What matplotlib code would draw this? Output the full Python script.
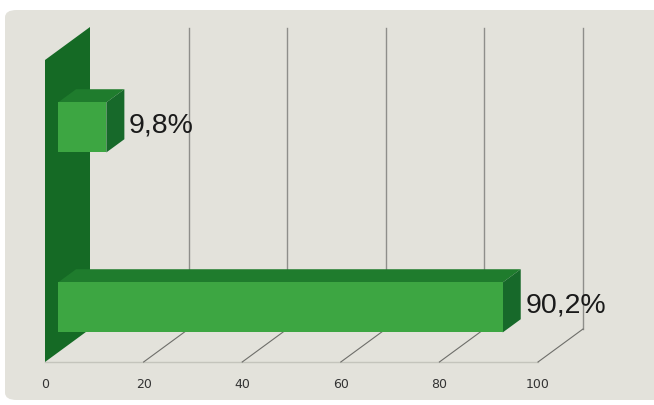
import matplotlib
matplotlib.use("Agg")
import matplotlib.pyplot as plt
from matplotlib.patches import Polygon, FancyBboxPatch

# Shares of the two groups (percent)
values = [90.2, 9.8]
value_labels = ["90,2%", "9,8%"]
tick_values = [0, 20, 40, 60, 80, 100]

# Layout of the pseudo-3D scene (y in pixel-like units above the front floor edge)
W, H, DPI = 654, 405, 100
PX_PER_UNIT = 4.93          # pixels per percentage point
X0_PX, FLOOR_PX = 45, 362   # screen position of value 0 on the front floor edge
DEPTH_X = 45 / PX_PER_UNIT  # oblique depth shift along x (data units)
DEPTH_Y = 33                # oblique depth shift along y
WALL_TOP = 302
slot_centers = [45, 225]    # vertical centre of each bar slot
half_h = 25
front_d, back_d = 0.29, 0.69

FRONT = "#3da642"
TOP = "#1f7c2d"
SIDE = "#17692a"
WALL = "#156a25"
PANEL = "#e3e2db"


def proj(x, y, d):
    """Oblique projection of a point at depth fraction d (0 = front, 1 = back)."""
    return (x + d * DEPTH_X, y + d * DEPTH_Y)


fig = plt.figure(figsize=(W / DPI, H / DPI), dpi=DPI)
fig.patch.set_facecolor("white")

ax = fig.add_axes([0, 0, 1, 1])
ax.set_xlim(-X0_PX / PX_PER_UNIT, (W - X0_PX) / PX_PER_UNIT)
ax.set_ylim(FLOOR_PX - H, FLOOR_PX)
ax.axis("off")

# rounded background panel
panel = FancyBboxPatch((5 / W, 5 / H), 700 / W, 390 / H,
                       boxstyle="round,pad=0,rounding_size=0.018",
                       transform=ax.transAxes, facecolor=PANEL,
                       edgecolor="none", zorder=0, clip_on=False)
ax.add_patch(panel)

# back wall gridlines
for t in tick_values[1:]:
    xb, yb = proj(t, 0, 1)
    ax.plot([xb, xb], [yb, WALL_TOP + DEPTH_Y - 1], color="#8e8e8a", lw=1.0, zorder=1)

# floor: front edge and depth lines
ax.plot([0, 100], [0, 0], color="#c4c4bc", lw=1.0, zorder=1)
for t in tick_values[1:]:
    xb, yb = proj(t, 0, 1)
    ax.plot([t, xb], [0, yb], color="#6e6e6a", lw=0.8, zorder=1)

# side wall at value 0
wall = [proj(0, 0, 0), proj(0, WALL_TOP, 0), proj(0, WALL_TOP, 1), proj(0, 0, 1)]
ax.add_patch(Polygon(wall, closed=True, facecolor=WALL, edgecolor="none", zorder=2))

# bars
for v, yc, lab in zip(values, slot_centers, value_labels):
    y0, y1 = yc - half_h, yc + half_h
    top = [proj(0, y1, front_d), proj(v, y1, front_d), proj(v, y1, back_d), proj(0, y1, back_d)]
    side = [proj(v, y0, front_d), proj(v, y1, front_d), proj(v, y1, back_d), proj(v, y0, back_d)]
    front = [proj(0, y0, front_d), proj(v, y0, front_d), proj(v, y1, front_d), proj(0, y1, front_d)]
    ax.add_patch(Polygon(top, closed=True, facecolor=TOP, edgecolor="none", zorder=3))
    ax.add_patch(Polygon(side, closed=True, facecolor=SIDE, edgecolor="none", zorder=3))
    ax.add_patch(Polygon(front, closed=True, facecolor=FRONT, edgecolor="none", zorder=4))
    lx, _ = proj(v, yc, back_d)
    _, ly = proj(v, yc, 0.35)
    ax.text(lx + 0.9, ly, lab,
            fontsize=20.5, family="Liberation Sans", color="#1a1a1a",
            ha="left", va="center", zorder=5)

# value axis labels along the front floor edge
for t in tick_values:
    ax.text(t, -22, str(t), fontsize=9, family="DejaVu Sans", color="#333333",
            ha="center", va="center", zorder=5)

fig.savefig("out.png", dpi=DPI, facecolor=fig.get_facecolor())
